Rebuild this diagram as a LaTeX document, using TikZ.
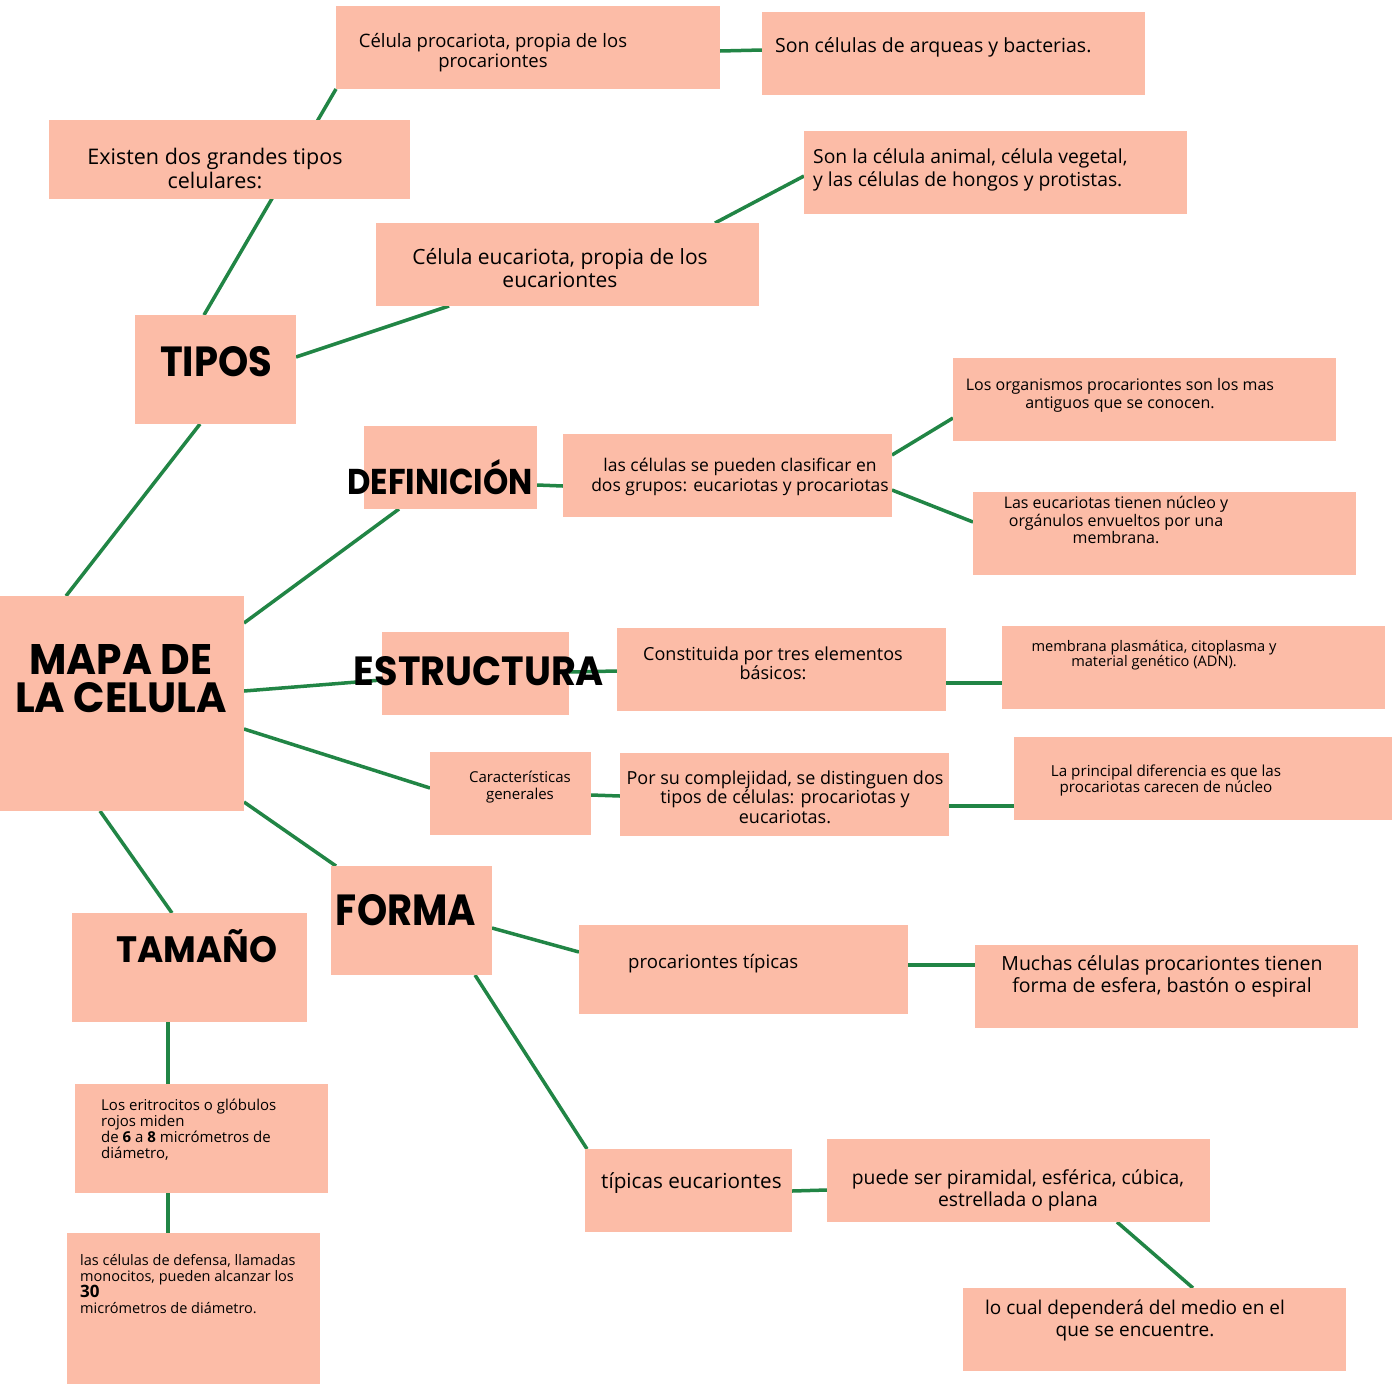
\documentclass[tikz,border=0pt]{standalone}
\usepackage{fontspec}
\setmainfont{Open Sans}
\newfontfamily\headfont{Poppins}
\usetikzlibrary{calc,backgrounds}
\definecolor{boxfill}{RGB}{252,188,167}
\definecolor{linkgreen}{RGB}{33,133,69}
\newcommand{\headtxt}[3]{\resizebox{#1pt}{#2pt}{\headfont\bfseries #3}}
\newcommand{\fsz}[2]{\fontsize{#1}{#2}\selectfont}
\begin{document}
\begin{tikzpicture}[x=1pt,y=-1pt,
  box/.style={fill=boxfill, draw=none, inner sep=0pt, outer sep=0pt, anchor=north west},
  txt/.style={inner sep=0pt, align=center, text=black},
  ltxt/.style={inner sep=0pt, align=left, anchor=west, text=black},
  link/.style={draw=linkgreen, line width=3.5pt}]
\useasboundingbox (0,0) rectangle (1392,1385);
% boxes
\node[box, minimum width=384pt, minimum height=83pt] (proc) at (336,6) {};
\node[box, minimum width=383pt, minimum height=83pt] (arq) at (762,12) {};
\node[box, minimum width=361pt, minimum height=79pt] (exis) at (49,120) {};
\node[box, minimum width=383pt, minimum height=83pt] (anim) at (804,131) {};
\node[box, minimum width=383pt, minimum height=83pt] (euc) at (376,223) {};
\node[box, minimum width=161pt, minimum height=109pt] (tipos) at (135,315) {};
\node[box, minimum width=173pt, minimum height=83pt] (def) at (364,426) {};
\node[box, minimum width=329pt, minimum height=83pt] (clas) at (563,434) {};
\node[box, minimum width=383pt, minimum height=83pt] (org) at (953,358) {};
\node[box, minimum width=383pt, minimum height=83pt] (euk) at (973,492) {};
\node[box, minimum width=244pt, minimum height=215pt] (mapa) at (0,596) {};
\node[box, minimum width=187pt, minimum height=83pt] (estr) at (382,632) {};
\node[box, minimum width=329pt, minimum height=83pt] (const) at (617,628) {};
\node[box, minimum width=383pt, minimum height=83pt] (memb) at (1002,626) {};
\node[box, minimum width=161pt, minimum height=83pt] (car) at (430,752) {};
\node[box, minimum width=329pt, minimum height=83pt] (porsu) at (620,753) {};
\node[box, minimum width=378pt, minimum height=83pt] (princ) at (1014,737) {};
\node[box, minimum width=161pt, minimum height=109pt] (forma) at (331,866) {};
\node[box, minimum width=235pt, minimum height=109pt] (tam) at (72,913) {};
\node[box, minimum width=329pt, minimum height=89pt] (proct) at (579,925) {};
\node[box, minimum width=383pt, minimum height=83pt] (much) at (975,945) {};
\node[box, minimum width=253pt, minimum height=109pt] (erit) at (75,1084) {};
\node[box, minimum width=253pt, minimum height=151pt] (defs) at (67,1233) {};
\node[box, minimum width=207pt, minimum height=83pt] (euct) at (585,1149) {};
\node[box, minimum width=383pt, minimum height=83pt] (pued) at (827,1139) {};
\node[box, minimum width=383pt, minimum height=83pt] (locual) at (963,1288) {};
% connectors
\begin{scope}[on background layer]
\fill[white] (0,0) rectangle (1392,1385);
\draw[link] ($(mapa.north west)+(66,0)$) -- ($(tipos.south west)+(65,0)$);
\draw[link] ($(tipos.north west)+(69,0)$) -- (proc.south west);
\draw[link] ($(proc.north east)+(0,45)$) -- ($(arq.north west)+(0,38)$);
\draw[link] ($(tipos.north east)+(0,42)$) -- ($(euc.south west)+(73,0)$);
\draw[link] ($(euc.north west)+(339,0)$) -- ($(anim.north west)+(0,45)$);
\draw[link] ($(mapa.north east)+(0,27)$) -- ($(def.south west)+(35,0)$);
\draw[link] ($(def.north east)+(0,59)$) -- ($(clas.north west)+(0,52)$);
\draw[link] ($(clas.north east)+(0,21)$) -- ($(org.north west)+(0,60)$);
\draw[link] ($(clas.north east)+(0,56)$) -- ($(euk.north west)+(0,30)$);
\draw[link] ($(mapa.north east)+(0,95)$) -- ($(estr.north west)+(0,48)$);
\draw[link] ($(estr.north east)+(0,40)$) -- ($(const.north west)+(0,43)$);
\draw[link] ($(const.north east)+(0,55)$) -- ($(memb.north west)+(0,57)$);
\draw[link] ($(mapa.north east)+(0,133)$) -- ($(car.north west)+(0,36)$);
\draw[link] ($(car.north east)+(0,43)$) -- ($(porsu.north west)+(0,43)$);
\draw[link] ($(porsu.north east)+(0,53)$) -- ($(princ.north west)+(0,69)$);
\draw[link] ($(mapa.north east)+(0,206)$) -- ($(forma.north west)+(5,0)$);
\draw[link] ($(mapa.south west)+(100,0)$) -- ($(tam.north west)+(100,0)$);
\draw[link] ($(forma.north east)+(0,62)$) -- ($(proct.north west)+(0,27)$);
\draw[link] ($(proct.north east)+(0,40)$) -- ($(much.north west)+(0,20)$);
\draw[link] ($(forma.south west)+(144,0)$) -- ($(euct.north west)+(2,0)$);
\draw[link] ($(euct.north east)+(0,42)$) -- ($(pued.north west)+(0,51)$);
\draw[link] ($(pued.south west)+(290,0)$) -- ($(locual.north west)+(230,0)$);
\draw[link] ($(tam.south west)+(96,0)$) -- ($(erit.north west)+(93,0)$);
\draw[link] ($(erit.south west)+(93,0)$) -- ($(defs.north west)+(101,0)$);
\end{scope}
% headings
\node[txt] (h-tipos) at (216,362) {\headtxt{112}{30}{TIPOS}};
\node[txt] (h-def) at (440,477) {\headtxt{185}{35}{DEFINICIÓN}};
\node[txt] (h-mapa) at (121,679) {\headtxt{183}{30}{MAPA DE}\\[7pt]\headtxt{212}{30}{LA CELULA}};
\node[txt] (h-estr) at (479,671) {\headtxt{250}{29}{ESTRUCTURA}};
\node[txt] (h-forma) at (406,910) {\headtxt{140}{31}{FORMA}};
\node[txt] (h-tam) at (197,946) {\headtxt{161}{33}{TAMAÑO}};
% texts
\node[txt, font=\fsz{18.5}{20}] (t-proc) at (493,53) {Célula procariota, propia de los\\procariontes};
\node[ltxt, font=\fsz{19.5}{22}] (t-arq) at (775,47) {Son células de arqueas y bacterias.};
\node[txt, font=\fsz{21.5}{24}] (t-exis) at (215,168) {Existen dos grandes tipos\\celulares:};
\node[ltxt, font=\fsz{19.3}{23}] (t-anim) at (813,170) {Son la célula animal, célula vegetal,\\y las células de hongos y protistas.};
\node[txt, font=\fsz{21}{23}] (t-euc) at (560,268) {Célula eucariota, propia de los\\eucariontes};
\node[txt, font=\fsz{17.5}{20}] (t-clas) at (740,477) {las células se pueden clasificar en\\dos grupos: eucariotas y procariotas};
\node[txt, font=\fsz{16}{18}] (t-org) at (1120,395) {Los organismos procariontes son los mas\\antiguos que se conocen.};
\node[txt, font=\fsz{16}{17.5}] (t-euk) at (1116,520) {Las eucariotas tienen núcleo y\\orgánulos envueltos por una\\membrana.};
\node[txt, font=\fsz{18}{19}] (t-const) at (773,663) {Constituida por tres elementos\\básicos:};
\node[txt, font=\fsz{14.6}{15}] (t-memb) at (1154,655) {membrana plasmática, citoplasma y\\material genético (ADN).};
\node[txt, font=\fsz{15}{17}] (t-car) at (520,787) {Características\\generales};
\node[txt, font=\fsz{18}{19.5}] (t-porsu) at (785,797) {Por su complejidad, se distinguen dos\\tipos de células: procariotas y\\eucariotas.};
\node[txt, font=\fsz{15.2}{16}] (t-princ) at (1166,780) {La principal diferencia es que las\\procariotas carecen de núcleo};
\node[ltxt, font=\fsz{18.6}{20}] (t-proct) at (628,964) {procariontes típicas};
\node[txt, font=\fsz{19.5}{22}] (t-much) at (1162,976) {Muchas células procariontes tienen\\forma de esfera, bastón o espiral};
\node[ltxt, font=\fsz{15}{16}] (t-erit) at (101,1130) {Los eritrocitos o glóbulos\\rojos miden\\de \textbf{6} a \textbf{8} micrómetros de\\diámetro,};
\node[ltxt, font=\fsz{14.5}{16}] (t-defs) at (80,1284) {las células de defensa, llamadas\\monocitos, pueden alcanzar los\\{\fsz{17}{16}\textbf{30}}\\micrómetros de diámetro.};
\node[ltxt, font=\fsz{20.7}{22}] (t-euct) at (601,1183) {típicas eucariontes};
\node[txt, font=\fsz{19.3}{22}] (t-pued) at (1018,1190) {puede ser piramidal, esférica, cúbica,\\estrellada o plana};
\node[txt, font=\fsz{19}{22}] (t-locual) at (1135,1320) {lo cual dependerá del medio en el\\que se encuentre.};
\end{tikzpicture}
\end{document}
